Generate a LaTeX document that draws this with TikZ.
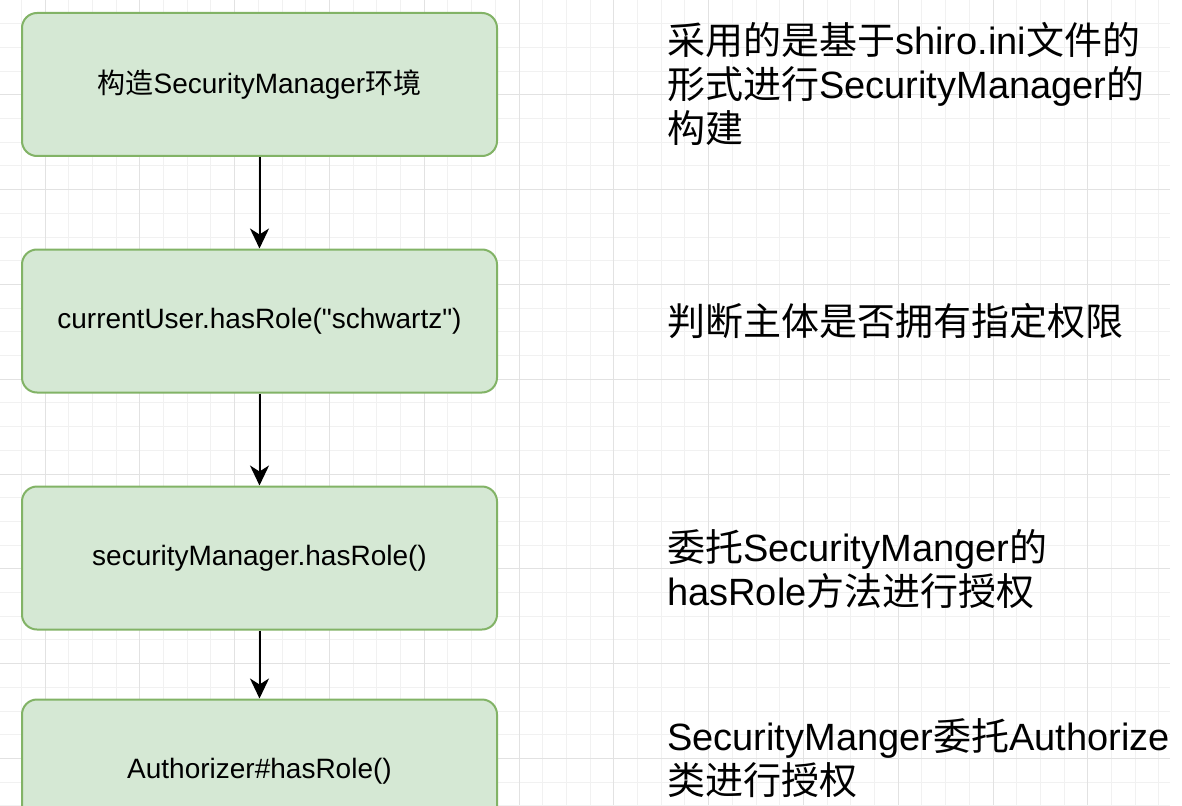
\documentclass[tikz,border=0pt]{standalone}
\usepackage{fontspec}
\setmainfont{Liberation Sans}[Ligatures=TeXOff]
\newfontfamily\cjk{Noto Sans CJK SC}
\usetikzlibrary{arrows.meta}
\definecolor{boxfill}{HTML}{D5E8D4}
\definecolor{boxline}{HTML}{82B366}
\definecolor{gridminor}{HTML}{F1F1F1}
\definecolor{gridmajor}{HTML}{E2E2E2}
\tikzset{
  flowbox/.style={draw=boxline, fill=boxfill, line width=2pt, rounded corners=15pt,
    minimum width=475pt, minimum height=143pt, inner sep=0pt,
    font=\fontsize{28}{34}\selectfont},
  note/.style={anchor=west, align=left, inner sep=0pt,
    font=\fontsize{38}{44}\selectfont},
  flowarrow/.style={draw=black, line width=2pt, -{Stealth[length=20pt, width=19pt, inset=6pt]}}
}
\begin{document}
\begin{tikzpicture}[x=1pt, y=-1pt]
\useasboundingbox (0,0) rectangle (1182,805);
\fill[white] (0,0) rectangle (1182,805);
\begin{scope}
\clip (0,0) rectangle (1170,805);
% minor grid
\foreach \k in {0,...,49} {
  \draw[gridminor, line width=1pt] ({21.3+23.7*\k},0) -- ({21.3+23.7*\k},805);
}
\foreach \k in {0,...,34} {
  \draw[gridminor, line width=1pt] (0,{23.7*\k}) -- (1170,{23.7*\k});
}
% major grid
\foreach \k in {0,...,12} {
  \draw[gridmajor, line width=1pt] ({45+94.8*\k},0) -- ({45+94.8*\k},805);
}
\foreach \k in {0,...,8} {
  \draw[gridmajor, line width=1pt] (0,{94.8*\k}) -- (1170,{94.8*\k});
}
% boxes
\node[flowbox] (b1) at (259.5,84.5) {{\cjk 构造}SecurityManager{\cjk 环境}};
\node[flowbox] (b2) at (259.5,321) {currentUser.hasRole("schwartz")};
\node[flowbox] (b3) at (259.5,558) {securityManager.hasRole()};
\node[flowbox] (b4) at (259.5,771) {Authorizer\#hasRole()};
% arrows
\draw[flowarrow] (b1.south) -- (b2.north);
\draw[flowarrow] (b2.south) -- (b3.north);
\draw[flowarrow] (b3.south) -- (b4.north);
% notes
\node[note] (n1) at (667,84) {{\cjk 采用的是基于}shiro.ini{\cjk 文件的}\\{\cjk 形式进行}SecurityManager{\cjk 的}\\{\cjk 构建}};
\node[note] (n2) at (667,321) {{\cjk 判断主体是否拥有指定权限}};
\node[note] (n3) at (667,569) {{\cjk 委托}SecurityManger{\cjk 的}\\hasRole{\cjk 方法进行授权}};
\node[note] (n4) at (667,758) {SecurityManger{\cjk 委托}Authorizer\\{\cjk 类进行授权}};
\end{scope}
\end{tikzpicture}
\end{document}
